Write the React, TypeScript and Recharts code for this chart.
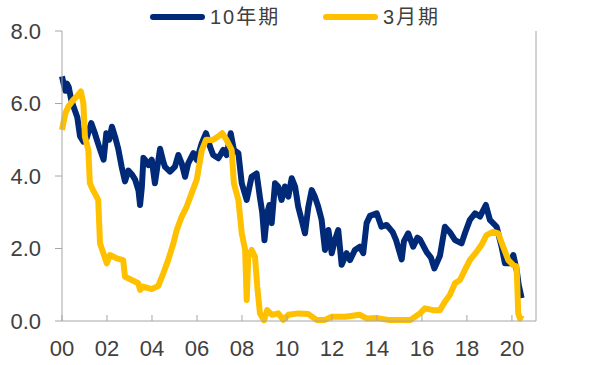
import { LineChart, Line, XAxis, YAxis } from 'recharts';

// 10年期 (navy) — year, yield %
const tenYearDates = [
  2000.0, 2000.07, 2000.15, 2000.22, 2000.3, 2000.41, 2000.55, 2000.68, 2000.8, 2000.95,
  2001.1, 2001.3, 2001.45, 2001.55, 2001.68, 2001.85, 2001.97, 2002.1, 2002.22, 2002.36,
  2002.5, 2002.65, 2002.8, 2002.95, 2003.1, 2003.25, 2003.4, 2003.47, 2003.55, 2003.62,
  2003.75, 2003.84, 2003.99, 2004.13, 2004.25, 2004.36, 2004.5, 2004.58, 2004.8, 2005.02,
  2005.17, 2005.32, 2005.47, 2005.61, 2005.84, 2005.99, 2006.21, 2006.4, 2006.58, 2006.72,
  2006.95, 2007.17, 2007.32, 2007.5, 2007.64, 2007.84, 2007.99, 2008.21, 2008.43, 2008.65,
  2008.8, 2008.9, 2009.0, 2009.12, 2009.22, 2009.32, 2009.47, 2009.61, 2009.76, 2009.91,
  2010.06, 2010.21, 2010.36, 2010.5, 2010.65, 2010.8, 2010.95, 2011.1, 2011.24, 2011.39,
  2011.54, 2011.69, 2011.84, 2011.99, 2012.13, 2012.28, 2012.43, 2012.65, 2012.8, 2013.02,
  2013.24, 2013.39, 2013.54, 2013.69, 2013.99, 2014.2, 2014.43, 2014.7, 2014.85, 2015.1,
  2015.2, 2015.39, 2015.61, 2015.8, 2015.91, 2016.21, 2016.4, 2016.55, 2016.8, 2017.02,
  2017.24, 2017.47, 2017.76, 2017.91, 2018.13, 2018.36, 2018.58, 2018.84, 2019.02, 2019.32,
  2019.54, 2019.69, 2019.91, 2020.06, 2020.21, 2020.3, 2020.43,
];
const tenYearValues = [
  6.75, 6.55, 6.35, 6.55, 6.45, 6.1, 5.85, 5.62, 5.1, 4.95,
  5.05, 5.46, 5.2, 5.0, 4.75, 4.45, 5.18, 5.0, 5.36, 5.08,
  4.75, 4.26, 3.85, 4.15, 4.05, 3.9, 3.6, 3.2, 3.7, 4.5,
  4.4, 4.3, 4.45, 3.8, 4.3, 4.75, 4.4, 4.25, 4.12, 4.26,
  4.58, 4.35, 3.98, 4.35, 4.63, 4.44, 4.9, 5.18, 4.81, 4.58,
  4.49, 4.72, 4.58, 5.18, 4.72, 4.63, 3.8, 3.34, 3.98, 4.07,
  3.4, 3.0, 2.23, 2.98, 3.2, 2.7, 3.8, 3.71, 3.34, 3.71,
  3.43, 3.94, 3.71, 3.15, 2.79, 2.42, 3.15, 3.61, 3.43, 3.15,
  2.79, 1.96, 2.51, 1.87, 2.23, 2.51, 1.55, 1.87, 1.68, 1.96,
  2.05, 1.87, 2.7, 2.9, 2.97, 2.6, 2.65, 2.45, 2.23, 1.7,
  2.2, 2.42, 2.05, 2.3, 2.25, 1.9, 1.75, 1.45, 1.8, 2.6,
  2.45, 2.23, 2.14, 2.42, 2.79, 2.97, 2.88, 3.2, 2.79, 2.6,
  2.05, 1.59, 1.59, 1.82, 1.41, 1.0, 0.63,
];

// 3月期 (yellow)
const threeMonthDates = [
  2000.0, 2000.15, 2000.28, 2000.5, 2000.65, 2000.84, 2000.95, 2001.02, 2001.17, 2001.24,
  2001.38, 2001.61, 2001.69, 2001.84, 2001.99, 2002.13, 2002.43, 2002.72, 2002.8, 2003.1,
  2003.39, 2003.47, 2003.61, 2003.99, 2004.28, 2004.5, 2004.72, 2004.95, 2005.1, 2005.32,
  2005.54, 2005.76, 2005.99, 2006.1, 2006.21, 2006.4, 2006.7, 2006.92, 2007.12, 2007.32,
  2007.54, 2007.64, 2007.84, 2007.99, 2008.14, 2008.21, 2008.28, 2008.43, 2008.58, 2008.68,
  2008.8, 2008.98, 2009.12, 2009.34, 2009.61, 2009.84, 2010.06, 2010.5, 2010.95, 2011.32,
  2011.69, 2011.99, 2012.58, 2013.24, 2013.54, 2014.0, 2014.5, 2015.5, 2015.91, 2016.13,
  2016.5, 2016.8, 2017.02, 2017.24, 2017.47, 2017.69, 2017.91, 2018.13, 2018.43, 2018.65,
  2018.87, 2019.17, 2019.39, 2019.61, 2019.84, 2020.06, 2020.21, 2020.28, 2020.36, 2020.43,
];
const threeMonthValues = [
  5.27, 5.73, 5.91, 6.1, 6.19, 6.33, 6.0, 5.08, 4.72, 3.8,
  3.61, 3.34, 2.14, 1.87, 1.59, 1.82, 1.73, 1.68, 1.22, 1.13,
  1.04, 0.86, 0.95, 0.88, 0.97, 1.31, 1.68, 2.14, 2.51, 2.88,
  3.15, 3.52, 3.9, 4.3, 4.7, 5.0, 4.99, 5.08, 5.18, 4.99,
  4.72, 3.8, 3.34, 2.42, 1.96, 0.58, 1.77, 1.96, 1.77, 0.95,
  0.21, 0.02, 0.3, 0.17, 0.21, 0.03, 0.17, 0.21, 0.19, 0.03,
  0.03, 0.12, 0.12, 0.17, 0.07, 0.08, 0.03, 0.03, 0.21, 0.35,
  0.3, 0.3, 0.53, 0.72, 1.04, 1.13, 1.41, 1.68, 1.91, 2.1,
  2.37, 2.46, 2.42, 2.05, 1.68, 1.54, 1.5, 0.21, 0.07, 0.17,
];

const xTicks = [2000, 2002, 2004, 2006, 2008, 2010, 2012, 2014, 2016, 2018, 2020];
const yTicks = [0, 2, 4, 6, 8];

const NAVY = '#002A78';
const GOLD = '#FFC000';
const AXIS = '#A6A6A6';
const TEXT = '#404040';
const FONT = '"Liberation Sans", Arial, "Noto Sans CJK SC", sans-serif';

const tenYear = tenYearDates.map((t, i) => ({ t, v: tenYearValues[i] }));
const threeMonth = threeMonthDates.map((t, i) => ({ t, v: threeMonthValues[i] }));

const tickStyle = { fontSize: 22, fill: TEXT, fontFamily: FONT };

function LegendItem({ left, color, label }: { left: number; color: string; label: string }) {
  return (
    <div style={{ position: 'absolute', left, top: 4, display: 'flex', alignItems: 'center' }}>
      <span
        style={{ display: 'inline-block', width: 55, height: 6, borderRadius: 3, background: color }}
      />
      <span
        style={{
          marginLeft: 5,
          fontSize: 20,
          lineHeight: '26px',
          color: TEXT,
          fontFamily: FONT,
          letterSpacing: 2,
        }}
      >
        {label}
      </span>
    </div>
  );
}

export default function App() {
  return (
    <div style={{ position: 'absolute', left: 0, top: 0, width: 595, height: 365, background: '#fff' }}>
      <LineChart width={595} height={365} margin={{ top: 31, right: 0, bottom: 0, left: 0 }}>
        <XAxis
          dataKey="t"
          type="number"
          domain={[2000, 2021.07]}
          ticks={xTicks}
          tickFormatter={(v: number) => String(v).slice(2)}
          height={44}
          stroke={AXIS}
          tickSize={-6}
          tickMargin={25}
          tick={tickStyle}
          allowDuplicatedCategory={false}
        />
        <YAxis
          yAxisId="left"
          domain={[0, 8]}
          ticks={yTicks}
          tickFormatter={(v: number) => v.toFixed(1)}
          width={62}
          stroke={AXIS}
          tickSize={7}
          tickMargin={14}
          tick={tickStyle}
        />
        <YAxis
          yAxisId="right"
          orientation="right"
          domain={[0, 8]}
          ticks={yTicks}
          tickFormatter={(v: number) => v.toFixed(1)}
          width={59}
          stroke={AXIS}
          tickSize={7}
          tickMargin={14}
          tick={tickStyle}
        />
        <Line
          yAxisId="left"
          data={tenYear}
          dataKey="v"
          type="linear"
          stroke={NAVY}
          strokeWidth={6}
          strokeLinejoin="round"
          dot={false}
          isAnimationActive={false}
        />
        <Line
          yAxisId="left"
          data={threeMonth}
          dataKey="v"
          type="linear"
          stroke={GOLD}
          strokeWidth={6}
          strokeLinejoin="round"
          dot={false}
          isAnimationActive={false}
        />
      </LineChart>
      <LegendItem left={150} color={NAVY} label="10年期" />
      <LegendItem left={323} color={GOLD} label="3月期" />
    </div>
  );
}
